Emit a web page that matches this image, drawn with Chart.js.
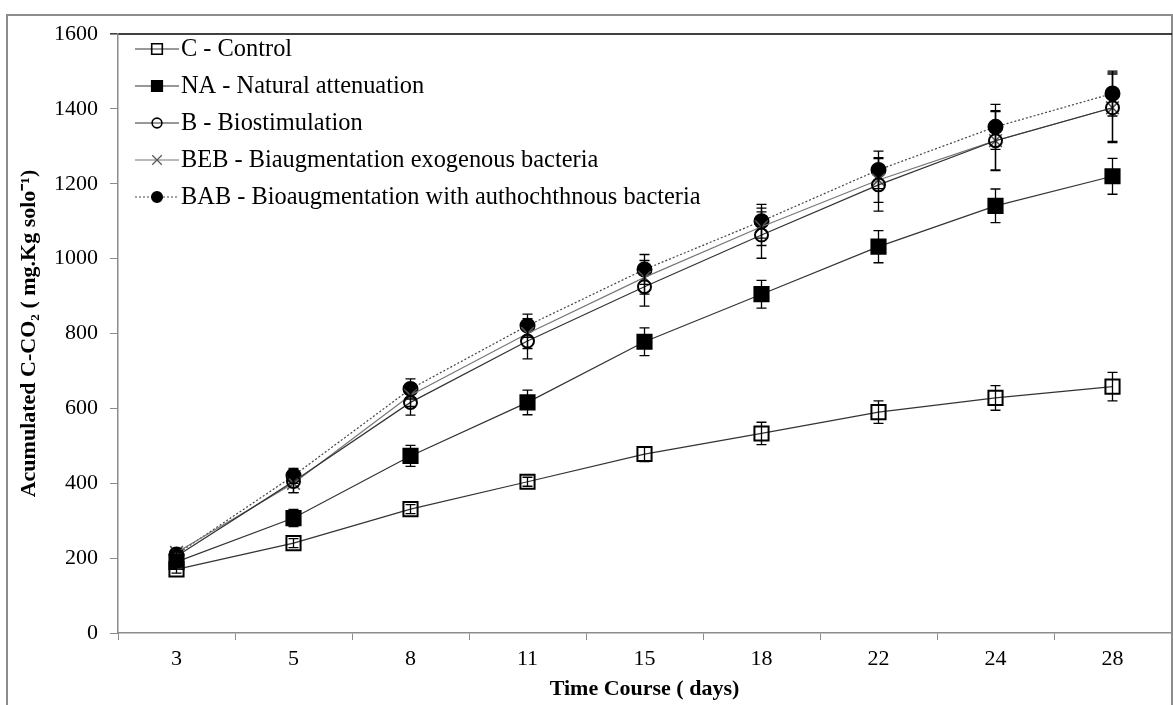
<!DOCTYPE html>
<html>
<head>
<meta charset="utf-8">
<script src="https://cdn.jsdelivr.net/npm/chart.js@4.4.1/dist/chart.umd.min.js"></script>
<style>
  html, body { margin: 0; padding: 0; background: #fff; }
  #wrap { width: 1173px; height: 705px; position: relative; }
</style>
</head>
<body>
<div id="wrap"><canvas id="co2Chart"></canvas></div>
<script>
// sampling days (categories)
const days = ['3', '5', '8', '11', '15', '18', '22', '24', '28'];

// accumulated C-CO2 and their error bars, per treatment
const control = [170, 240, 331, 404, 478, 533, 590, 628, 658];
const controlErr = [10, 12, 12, 12, 20, 30, 30, 33, 38];
const natural = [190, 307, 473, 616, 778, 905, 1032, 1141, 1220];
const naturalErr = [12, 23, 28, 33, 37, 37, 43, 45, 48];
const biostim = [205, 405, 616, 780, 925, 1063, 1197, 1315, 1403];
const biostimErr = [12, 30, 34, 48, 52, 62, 70, 78, 93];
const exogenous = [215, 400, 635, 800, 950, 1085, 1210, 1315, 1403];
const exogenousErr = [10, 25, 30, 40, 45, 50, 60, 80, 90];
const autochthonous = [210, 420, 652, 821, 971, 1100, 1237, 1352, 1441];
const autochthonousErr = [10, 20, 27, 31, 40, 45, 50, 60, 60];

const yTicks = [0, 200, 400, 600, 800, 1000, 1200, 1400, 1600];

const serif = '"Liberation Serif", "Times New Roman", serif';

// outer frame + black top line of the plot area
const framePlugin = {
  id: 'frame',
  beforeDraw(chart) {
    const { ctx, chartArea } = chart;
    ctx.save();
    ctx.fillStyle = '#fff';
    ctx.fillRect(0, 0, chart.width, chart.height);
    ctx.strokeStyle = '#8c8c8c';
    ctx.lineWidth = 2;
    ctx.beginPath();
    ctx.moveTo(7, chart.height);
    ctx.lineTo(7, 15);
    ctx.lineTo(1172, 15);
    ctx.lineTo(1172, chart.height);
    ctx.stroke();
    ctx.strokeStyle = '#000';
    ctx.lineWidth = 1.5;
    ctx.beginPath();
    ctx.moveTo(chartArea.left - 8, chartArea.top);
    ctx.lineTo(1172, chartArea.top);
    ctx.stroke();
    ctx.restore();
  }
};

// vertical error bars with caps
const errorBarPlugin = {
  id: 'errorBars',
  afterDatasetsDraw(chart) {
    const { ctx } = chart;
    const yScale = chart.scales.y;
    ctx.save();
    ctx.strokeStyle = '#000';
    ctx.lineWidth = 1.3;
    chart.data.datasets.forEach((ds, i) => {
      const meta = chart.getDatasetMeta(i);
      meta.data.forEach((pt, j) => {
        const e = ds.errors[j];
        const top = yScale.getPixelForValue(ds.data[j] + e);
        const bot = yScale.getPixelForValue(ds.data[j] - e);
        ctx.beginPath();
        ctx.moveTo(pt.x, top);
        ctx.lineTo(pt.x, bot);
        ctx.moveTo(pt.x - 5, top);
        ctx.lineTo(pt.x + 5, top);
        ctx.moveTo(pt.x - 5, bot);
        ctx.lineTo(pt.x + 5, bot);
        ctx.stroke();
      });
    });
    ctx.restore();
  }
};

// legend inside the plot area: line sample + marker + label
const legendPlugin = {
  id: 'insideLegend',
  afterDraw(chart) {
    const { ctx, chartArea } = chart;
    ctx.save();
    ctx.font = '24.4px ' + serif;
    ctx.textBaseline = 'middle';
    chart.data.datasets.forEach((ds, i) => {
      const y = chartArea.top + 15 + i * 37;
      const x0 = chartArea.left + 17;
      ctx.strokeStyle = ds.borderColor;
      ctx.lineWidth = ds.borderWidth;
      ctx.setLineDash(ds.borderDash || []);
      ctx.beginPath();
      ctx.moveTo(x0, y);
      ctx.lineTo(x0 + 44, y);
      ctx.stroke();
      ctx.setLineDash([]);
      ctx.fillStyle = ds.pointBackgroundColor;
      ctx.strokeStyle = ds.pointBorderColor;
      ctx.lineWidth = ds.pointBorderWidth * 0.8;
      Chart.helpers.drawPoint(ctx, {
        pointStyle: ds.pointStyle,
        radius: ds.pointRadius * 0.75,
        borderWidth: ds.pointBorderWidth * 0.8,
        rotation: 0
      }, x0 + 22, y);
      ctx.fillStyle = '#000';
      ctx.fillText(ds.label, x0 + 46, y + 1);
    });
    ctx.restore();
  }
};

function series(label, data, errors, style) {
  return Object.assign({
    label: label,
    data: data,
    errors: errors,
    borderWidth: 1.2,
    fill: false,
    tension: 0,
    pointBorderColor: '#000',
    pointBorderWidth: 2
  }, style);
}

const ctx = document.getElementById('co2Chart').getContext('2d');
new Chart(ctx, {
  type: 'line',
  data: {
    labels: days,
    datasets: [
      series('C - Control', control, controlErr, {
        borderColor: '#333',
        pointStyle: 'rect', pointRadius: 10,
        pointBackgroundColor: 'rgba(255,255,255,0)'
      }),
      series('NA - Natural attenuation', natural, naturalErr, {
        borderColor: '#333',
        pointStyle: 'rect', pointRadius: 10,
        pointBackgroundColor: '#000'
      }),
      series('B - Biostimulation', biostim, biostimErr, {
        borderColor: '#333',
        pointStyle: 'circle', pointRadius: 6.5,
        pointBackgroundColor: 'rgba(255,255,255,0)'
      }),
      series('BEB - Biaugmentation exogenous bacteria', exogenous, exogenousErr, {
        borderColor: '#777',
        pointStyle: 'crossRot', pointRadius: 9,
        pointBackgroundColor: '#555',
        pointBorderColor: '#555',
        pointBorderWidth: 1.5
      }),
      series('BAB - Bioaugmentation with authochthnous bacteria', autochthonous, autochthonousErr, {
        borderColor: '#444',
        borderDash: [2, 2],
        pointStyle: 'circle', pointRadius: 7,
        pointBackgroundColor: '#000'
      })
    ]
  },
  options: {
    responsive: true,
    maintainAspectRatio: false,
    animation: false,
    layout: {
      autoPadding: false,
      padding: { top: 34, right: 2, left: 0, bottom: 0 }
    },
    plugins: {
      legend: { display: false },
      tooltip: { enabled: false }
    },
    scales: {
      x: {
        type: 'category',
        offset: true,
        grid: {
          offset: true,
          drawOnChartArea: false,
          drawTicks: true,
          tickLength: 7,
          color: '#8c8c8c'
        },
        border: { color: '#8c8c8c', width: 1.5 },
        ticks: {
          color: '#000',
          padding: 6,
          maxRotation: 0,
          font: { family: serif, size: 22 }
        },
        title: {
          display: true,
          text: 'Time Course ( days)',
          color: '#000',
          padding: { top: 0, bottom: 2 },
          font: { family: serif, size: 22, weight: 'bold' }
        },
        afterFit(scale) { scale.height = 72; }
      },
      y: {
        min: 0,
        max: 1600,
        afterBuildTicks(scale) { scale.ticks = yTicks.map(v => ({ value: v })); },
        grid: {
          drawOnChartArea: false,
          drawTicks: true,
          tickLength: 8,
          color: '#8c8c8c'
        },
        border: { color: '#8c8c8c', width: 1.5 },
        ticks: {
          color: '#000',
          padding: 12,
          callback: v => String(v),
          font: { family: serif, size: 22 }
        },
        title: {
          display: true,
          text: 'Acumulated C-CO\u2082 ( mg.Kg solo\u207B\u00B9)',
          color: '#000',
          padding: { top: 16, bottom: 0 },
          font: { family: serif, size: 22, weight: 'bold' }
        },
        afterFit(scale) { scale.width = 118; }
      }
    }
  },
  plugins: [framePlugin, errorBarPlugin, legendPlugin]
});
</script>
</body>
</html>
